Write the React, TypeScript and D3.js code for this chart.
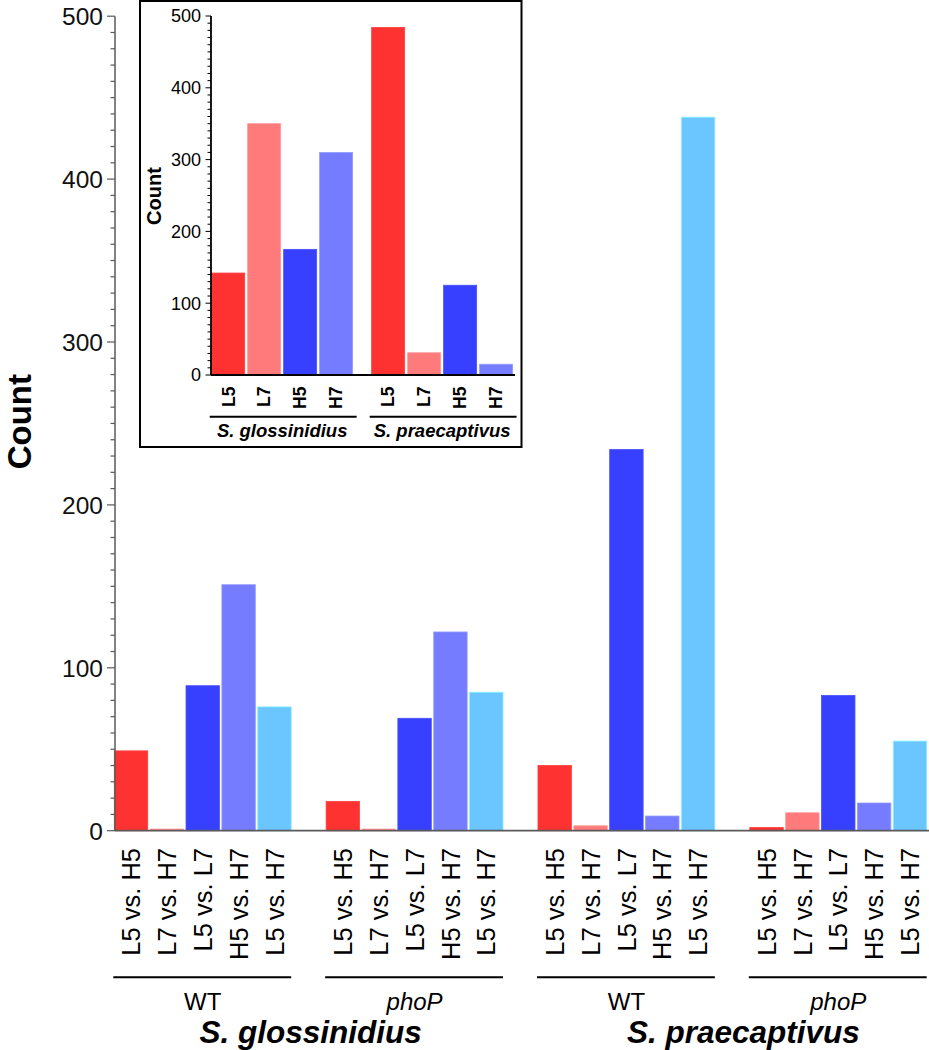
import React, { useEffect } from "react";
import * as d3 from "d3";

// ---------- data ----------
const comparisons = ["L5 vs. H5", "L7 vs. H7", "L5 vs. L7", "H5 vs. H7", "L5 vs. H7"];
const strains = ["WT", "phoP", "WT", "phoP"];
const species = ["S. glossinidius", "S. praecaptivus"];
const glossWT = [49, 1, 89, 151, 76];
const glossPhoP = [18, 1, 69, 122, 85];
const praeWT = [40, 3, 234, 9, 438];
const praePhoP = [2, 11, 83, 17, 55];
const mainSeries = [glossWT, glossPhoP, praeWT, praePhoP];
const yTicks = [0, 100, 200, 300, 400, 500];

const insetConditions = ["L5", "L7", "H5", "H7"];
const insetGloss = [142, 350, 175, 310];
const insetPrae = [484, 31, 125, 15];
const insetSeries = [insetGloss, insetPrae];

const colors = ["#ff3232", "#ff7b7b", "#3840ff", "#767cff", "#6bc5ff"];

const FONT = "'Liberation Sans', Arial, Helvetica, sans-serif";

export default function App() {
  useEffect(() => {
    document.body.style.margin = "0";
  }, []);

  // ---------- main chart scales ----------
  const y = d3.scaleLinear().domain([0, 500]).range([830.7, 16.2]);
  const groupKeys = strains.map((s, i) => `${i}`);
  const xg = d3.scaleBand().domain(groupKeys).range([114.3, 926.7]).paddingInner(0.165).paddingOuter(0);
  const xi = d3.scaleBand().domain(comparisons).range([0, xg.bandwidth()]).paddingInner(0.068).paddingOuter(0);
  const minor = d3.range(0, 501, 10);

  // ---------- inset scales ----------
  const iy = d3.scaleLinear().domain([0, 500]).range([375, 16]);
  const ixg = d3.scaleBand().domain(species).range([211.7, 512.6]).paddingInner(0.119).paddingOuter(0);
  const ixi = d3.scaleBand().domain(insetConditions).range([0, ixg.bandwidth()]).paddingInner(0.083).paddingOuter(0);

  const axisGray = "#5a5a5a";

  return (
    <svg width={929} height={1050} style={{ position: "absolute", left: 0, top: 0, fontFamily: FONT }}>
      <rect x={0} y={0} width={929} height={1050} fill="#fff" />

      {/* main bars */}
      {mainSeries.map((vals, g) => (
        <g key={g} transform={`translate(${xg(`${g}`)},0)`}>
          {vals.map((v, i) => (
            <rect
              key={i}
              x={xi(comparisons[i])}
              y={y(v)}
              width={xi.bandwidth()}
              height={y(0) - y(v)}
              fill={colors[i]}
              stroke={d3.color(colors[i])!.brighter(0.6).formatHex()}
              strokeWidth={0.8}
            />
          ))}
        </g>
      ))}

      {/* main x axis line */}
      <line x1={115} x2={929} y1={y(0)} y2={y(0)} stroke={axisGray} strokeWidth={1.8} />

      {/* main y axis */}
      <line x1={115} x2={115} y1={y(500)} y2={y(0)} stroke={axisGray} strokeWidth={1.5} />
      {minor.map((t) => (
        <line key={t} x1={t % 100 === 0 ? 107 : 110.5} x2={115} y1={y(t)} y2={y(t)} stroke={axisGray} strokeWidth={1.2} />
      ))}
      {yTicks.map((t) => (
        <text key={t} x={103} y={y(t)} dy="0.36em" textAnchor="end" fontSize={24.5} fill="#111">
          {t}
        </text>
      ))}
      <text
        transform={`translate(31,${421.7}) rotate(-90)`}
        textAnchor="middle"
        fontSize={33}
        fontWeight="bold"
        fill="#000"
      >
        Count
      </text>

      {/* main category labels */}
      {mainSeries.map((vals, g) =>
        comparisons.map((c, i) => {
          const cx = (xg(`${g}`) as number) + (xi(c) as number) + xi.bandwidth() / 2;
          return (
            <text
              key={`${g}-${i}`}
              transform={`translate(${cx},848) rotate(-90)`}
              textAnchor="end"
              dy="0.36em"
              fontSize={25.5}
              fill="#000"
            >
              {c}
            </text>
          );
        })
      )}

      {/* group brackets and strain labels */}
      {strains.map((s, g) => {
        const x0 = xg(`${g}`) as number;
        const x1 = x0 + xg.bandwidth();
        return (
          <g key={g}>
            <line x1={x0 - 1} x2={x1} y1={977.3} y2={977.3} stroke="#000" strokeWidth={2} />
            <text
              x={(x0 + x1) / 2}
              y={1009.5}
              textAnchor="middle"
              fontSize={24}
              fontStyle={s === "phoP" ? "italic" : "normal"}
              fill="#000"
            >
              {s}
            </text>
          </g>
        );
      })}
      {species.map((sp, k) => {
        const a = xg(`${k * 2}`) as number;
        const b = (xg(`${k * 2 + 1}`) as number) + xg.bandwidth();
        return (
          <text
            key={sp}
            x={(a + b) / 2 + (k === 0 ? 2 : 11)}
            y={1042.5}
            textAnchor="middle"
            fontSize={31.5}
            fontWeight="bold"
            fontStyle="italic"
            fill="#000"
          >
            {sp}
          </text>
        );
      })}

      {/* ---------- inset ---------- */}
      <rect x={140} y={1} width={381.5} height={446} fill="#fff" stroke="#000" strokeWidth={2} />
      {insetSeries.map((vals, g) => (
        <g key={g} transform={`translate(${ixg(species[g])},0)`}>
          {vals.map((v, i) => (
            <rect
              key={i}
              x={ixi(insetConditions[i])}
              y={iy(v)}
              width={ixi.bandwidth()}
              height={iy(0) - iy(v)}
              fill={colors[i]}
              stroke={d3.color(colors[i])!.brighter(0.6).formatHex()}
              strokeWidth={0.8}
            />
          ))}
        </g>
      ))}
      <line x1={211} x2={515} y1={iy(0)} y2={iy(0)} stroke="#000" strokeWidth={1.8} />
      <line x1={211} x2={211} y1={iy(500)} y2={iy(0)} stroke="#000" strokeWidth={1.8} />
      {minor.map((t) => (
        <line key={t} x1={t % 100 === 0 ? 205.5 : 207.5} x2={211} y1={iy(t)} y2={iy(t)} stroke="#000" strokeWidth={1} />
      ))}
      {yTicks.map((t) => (
        <text key={t} x={201} y={iy(t)} dy="0.36em" textAnchor="end" fontSize={18} fill="#000">
          {t}
        </text>
      ))}
      <text
        transform={`translate(161,196) rotate(-90)`}
        textAnchor="middle"
        fontSize={20}
        fontWeight="bold"
        fill="#000"
      >
        Count
      </text>
      {insetSeries.map((vals, g) =>
        insetConditions.map((c, i) => {
          const cx = (ixg(species[g]) as number) + (ixi(c) as number) + ixi.bandwidth() / 2;
          return (
            <text
              key={`${g}-${i}`}
              transform={`translate(${cx},386.5) rotate(-90)`}
              textAnchor="end"
              dy="0.36em"
              fontSize={17.5}
              fontWeight="bold"
              fill="#000"
            >
              {c}
            </text>
          );
        })
      )}
      {species.map((sp) => {
        const x0 = ixg(sp) as number;
        const x1 = x0 + ixg.bandwidth();
        return (
          <g key={sp}>
            <line x1={x0 - 2} x2={x1 + 4} y1={416.7} y2={416.7} stroke="#000" strokeWidth={2} />
            <text
              x={(x0 + x1) / 2}
              y={436.5}
              textAnchor="middle"
              fontSize={18.5}
              fontWeight="bold"
              fontStyle="italic"
              fill="#000"
            >
              {sp}
            </text>
          </g>
        );
      })}
    </svg>
  );
}
